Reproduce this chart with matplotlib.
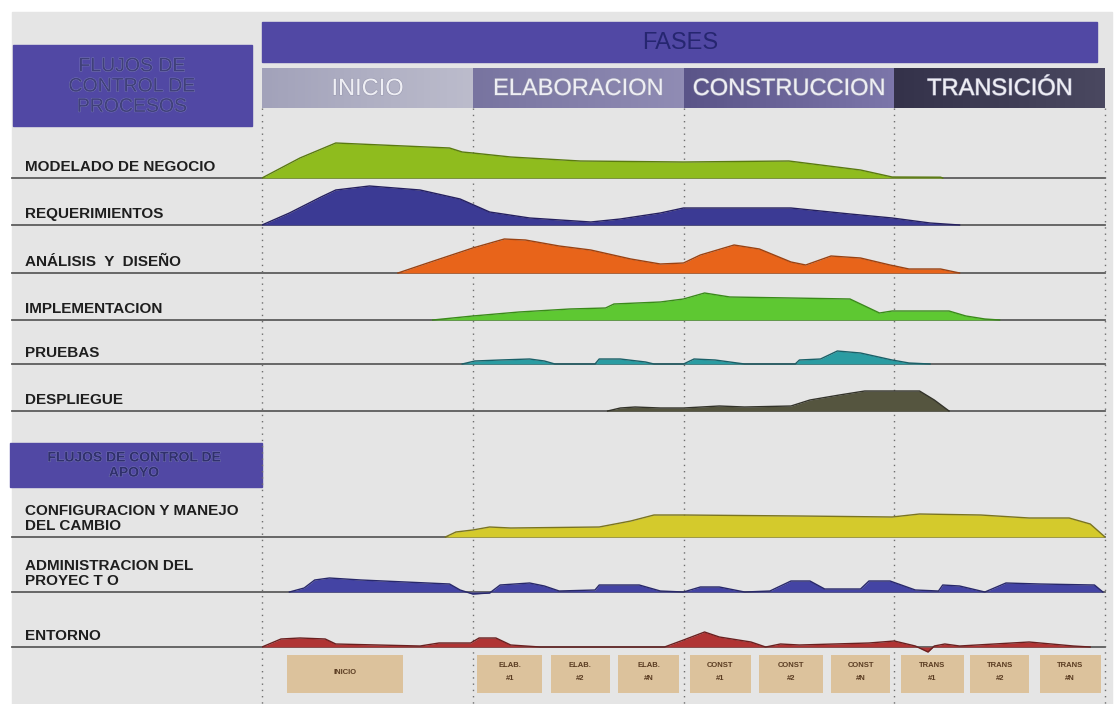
import matplotlib
matplotlib.use("Agg")
import matplotlib.pyplot as plt
import matplotlib.patheffects as pe
from matplotlib.patches import Rectangle
import numpy as np

plt.rcParams['font.family'] = ['Liberation Sans', 'DejaVu Sans']

# ---- datos ----
fases = ["INICIO", "ELABORACION", "CONSTRUCCION", "TRANSICIÓN"]

etiquetas = ["MODELADO DE NEGOCIO", "REQUERIMIENTOS", "ANÁLISIS  Y  DISEÑO",
             "IMPLEMENTACION", "PRUEBAS", "DESPLIEGUE",
             "CONFIGURACION Y MANEJO\nDEL CAMBIO", "ADMINISTRACION DEL\nPROYEC T O",
             "ENTORNO"]

# tiempo en unidades de fase (0..4), esfuerzo en unidades relativas
modelado_t = [0, 0.18, 0.35, 0.89, 0.95, 1.0, 1.18, 1.51, 2.0, 2.5, 2.84, 2.99, 3.22, 3.23]
modelado_h = [0, 20, 35, 30, 26, 25, 21, 17, 16, 17, 8, 1, 0.8, 0]

requer_t = [0, 0.13, 0.28, 0.35, 0.51, 0.75, 0.94, 1.08, 1.27, 1.56, 1.70, 1.89, 2.0, 2.51, 2.79, 2.99, 3.17, 3.31]
requer_h = [0, 12, 28, 35, 39, 35, 26, 13, 7, 3, 6, 12, 17, 17, 11, 7, 2, 0]

analisis_t = [0.645, 0.80, 1.0, 1.15, 1.25, 1.41, 1.56, 1.75, 1.89, 2.0, 2.08, 2.24, 2.36, 2.51, 2.58,
              2.70, 2.84, 2.98, 3.07, 3.22, 3.31]
analisis_h = [0, 11, 25, 34, 33, 27, 23, 14, 9, 10, 18, 28, 24, 11, 8, 17, 15, 8, 4, 4, 0]

implem_t = [0.81, 1.0, 1.22, 1.46, 1.63, 1.67, 1.89, 2.0, 2.10, 2.22, 2.51, 2.79, 2.88, 2.93, 2.99,
            3.26, 3.34, 3.43, 3.50]
implem_h = [0, 4, 8, 11, 12, 16, 18, 21, 27, 23, 22, 21, 12, 7, 9, 9, 4, 1, 0]

pruebas_t = [0.95, 1.01, 1.13, 1.27, 1.34, 1.39, 1.58, 1.60, 1.70, 1.82, 1.86, 2.0, 2.05, 2.15, 2.29,
             2.53, 2.55, 2.65, 2.73, 2.84, 2.99, 3.07, 3.17]
pruebas_h = [0, 3, 4, 5, 3, 0, 0, 5, 5, 2, 0, 0, 5, 4, 0, 0, 4, 5, 13, 11, 4, 1, 0]

despl_t = [1.64, 1.70, 1.77, 1.89, 2.0, 2.17, 2.29, 2.51, 2.60, 2.74, 2.86, 3.12, 3.19, 3.26]
despl_h = [0, 3, 4, 3, 3, 5, 4, 5, 11, 16, 20, 20, 11, 0]

config_t = [0.87, 0.92, 1.0, 1.08, 1.18, 1.60, 1.75, 1.86, 2.0, 2.55, 2.99, 3.12, 3.41, 3.64, 3.83,
            3.93, 4.0]
config_h = [0, 5, 7, 10, 9, 10, 16, 22, 22, 21, 20, 23, 22, 19, 19, 13, 0]

admin_t = [0.13, 0.20, 0.25, 0.32, 0.47, 0.89, 0.94, 1.0, 1.08, 1.13, 1.27, 1.34, 1.41, 1.58, 1.60,
           1.79, 1.89, 2.0, 2.08, 2.17, 2.29, 2.41, 2.51, 2.60, 2.67, 2.84, 2.88, 2.98, 3.10, 3.21,
           3.23, 3.31, 3.43, 3.53, 3.69, 3.95, 3.99]
admin_h = [0, 4, 12, 14, 12, 8, 2, -2, -1, 7, 9, 6, 1, 2, 7, 7, 1, 0, 5, 5, 0, 1, 11, 11, 3, 3, 11,
           11, 2, 1, 7, 6, 0, 9, 8, 7, 0]

entorno_t = [0, 0.09, 0.18, 0.30, 0.35, 0.75, 0.84, 0.99, 1.03, 1.11, 1.18, 1.32, 1.91, 2.0, 2.10,
             2.17, 2.32, 2.39, 2.46, 2.55, 2.88, 3.0, 3.10, 3.16, 3.19, 3.24, 3.31, 3.64, 3.85, 3.93]
entorno_h = [0, 8, 9, 8, 3, 1, 4, 4, 9, 9, 2, 0, 0, 7, 15, 10, 5, 0, 3, 2, 4, 6, 1, -5, 1, 3, 1, 5,
             1, 0]

iteraciones = ["INICIO", "ELAB.\n#1", "ELAB.\n#2", "ELAB.\n#N", "CONST\n#1", "CONST\n#2",
               "CONST\n#N", "TRANS\n#1", "TRANS\n#2", "TRANS\n#N"]
iter_ini = [0.12, 1.02, 1.37, 1.69, 2.03, 2.36, 2.70, 3.03, 3.36, 3.69]
iter_fin = [0.67, 1.33, 1.65, 1.98, 2.32, 2.66, 2.98, 3.33, 3.64, 3.98]

series = [(modelado_t, modelado_h, '#8fbc1e', '#5a7a10'),
          (requer_t, requer_h, '#3b3a94', '#252060'),
          (analisis_t, analisis_h, '#e8641a', '#9a4212'),
          (implem_t, implem_h, '#5ec832', '#3a8a1a'),
          (pruebas_t, pruebas_h, '#2a9ca2', '#1a6068'),
          (despl_t, despl_h, '#55553f', '#33332a'),
          (config_t, config_h, '#d4ca2c', '#7a7420'),
          (admin_t, admin_h, '#4444a4', '#28286a'),
          (entorno_t, entorno_h, '#b03434', '#6a2020')]

# ---- layout (pixeles) ----
W, H = 1117, 704
bases = [178, 225, 273, 320, 364, 411, 537, 592, 647]
X0, X1 = 262, 1105

fig = plt.figure(figsize=(W / 100, H / 100), dpi=100)
ax = fig.add_axes([0, 0, 1, 1])
ax.set_xlim(0, W)
ax.set_ylim(H, 0)
ax.axis('off')

ax.add_patch(Rectangle((12, 12), 1100, 692, color='#e5e5e5', zorder=0))

# barra FASES
azul = '#5148a4'
ax.add_patch(Rectangle((262, 22), 835, 40, color=azul, zorder=1))
ax.text(680, 43, "FASES", ha='center', va='center', fontsize=17, color='#262670', zorder=3)

# cabeceras de fase con degradado
grad_colores = [('#a2a2ba', '#bcbccc'), ('#7874a0', '#908cb4'),
                ('#5a5488', '#7c76aa'), ('#34324a', '#4a4860')]
for i, nombre in enumerate(fases):
    xa = X0 + i * (X1 - X0) / 4
    xb = X0 + (i + 1) * (X1 - X0) / 4
    c1 = np.array(matplotlib.colors.to_rgb(grad_colores[i][0]))
    c2 = np.array(matplotlib.colors.to_rgb(grad_colores[i][1]))
    g = np.linspace(0, 1, 64)
    img = (c1[None, :] * (1 - g[:, None]) + c2[None, :] * g[:, None])[None, :, :]
    ax.imshow(img, extent=(xa, xb, 108, 68), aspect='auto', zorder=1)
    ax.text((xa + xb) / 2, 89, nombre, ha='center', va='center', fontsize=17,
            color='#eeeef4', zorder=3,
            path_effects=[pe.withStroke(linewidth=0.8, foreground='#9a9ab0')])

# cajas de titulos
ax.add_patch(Rectangle((13, 45), 239, 81, color=azul, zorder=1))
ax.text(132, 87, "FLUJOS DE\nCONTROL DE\nPROCESOS", ha='center', va='center',
        fontsize=14, color='#40407a', linespacing=1.25, zorder=3,
        path_effects=[pe.withStroke(linewidth=0.6, foreground='#7c7cbc')])
ax.add_patch(Rectangle((10, 443), 252, 44, color=azul, zorder=1))
ax.text(134, 465, "FLUJOS DE CONTROL DE\nAPOYO", ha='center', va='center',
        fontsize=10, fontweight='bold', color='#30306c', linespacing=1.1, zorder=3,
        path_effects=[pe.withStroke(linewidth=0.6, foreground='#7c7cbc')])

# lineas base y etiquetas
for b, lab in zip(bases, etiquetas):
    ax.plot([12, X1], [b, b], color='#5c5c5c', lw=1.3, zorder=4)
    ax.text(25, b - 4, lab, ha='left', va='bottom', fontsize=11, fontweight='bold',
            color='#1e1e1e', linespacing=1.05, zorder=3)

# lineas verticales punteadas
for i in range(5):
    xv = X0 + i * (X1 - X0) / 4
    ax.plot([xv, xv], [108, H], color='#6e6e6e', lw=1.0, ls=(0, (1, 3.5)), zorder=5)

# ---- ejes de los flujos (tiempo en fases) ----
ax2 = fig.add_axes([X0 / W, 0, (X1 - X0) / W, 1])
ax2.set_xlim(0, 4)
ax2.set_ylim(H, 0)
ax2.axis('off')
ax2.patch.set_alpha(0)

for (t, h, fc, ec), b in zip(series, bases):
    t = np.array(t)
    h = np.array(h, dtype=float)
    ax2.fill_between(t, b, b - h, color=fc, lw=0, zorder=2)
    ax2.plot(t, b - h, color=ec, lw=1.0, zorder=3)

# iteraciones
centros = [(a + f) / 2 for a, f in zip(iter_ini, iter_fin)]
anchos = [f - a for a, f in zip(iter_ini, iter_fin)]
ax2.bar(centros, 38, width=anchos, bottom=655, color='#dcc29c', zorder=2)
for c, txt in zip(centros, iteraciones):
    ax2.text(c, 672, txt, ha='center', va='center', fontsize=5.5, fontweight='bold',
             color='#5a3c22', linespacing=2.2, zorder=3)

fig.savefig("out.png", dpi=100)
